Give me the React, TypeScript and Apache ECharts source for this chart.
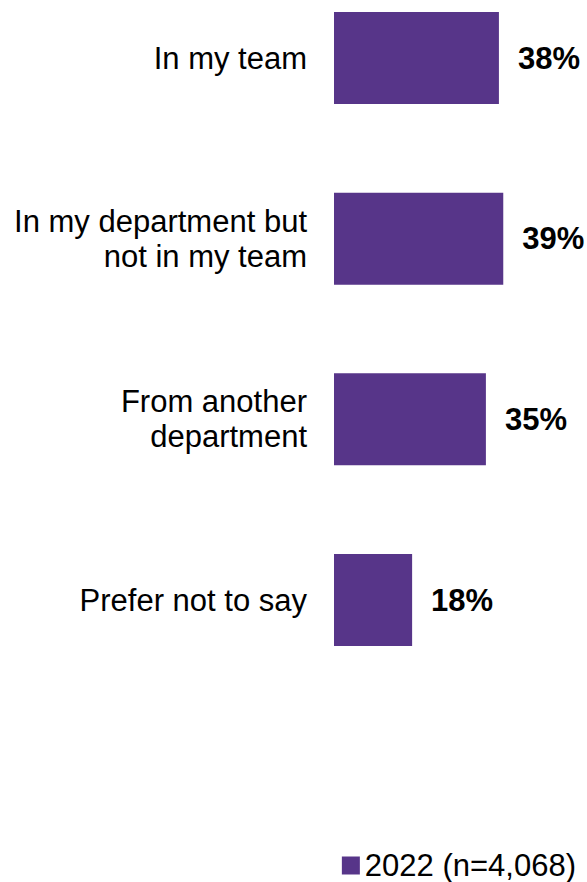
import React, { useEffect, useRef } from "react";
import * as echarts from "echarts";

const categories = [
  "In my team",
  "In my department but\nnot in my team",
  "From another\ndepartment",
  "Prefer not to say",
];
const values2022 = [38, 39, 35, 18];
const seriesName = "2022 (n=4,068)";

export default function App() {
  const ref = useRef<HTMLDivElement>(null);
  useEffect(() => {
    if (!ref.current) return;
    const chart = echarts.init(ref.current, null, { renderer: "svg" });
    const font = "'Liberation Sans', Arial, sans-serif";
    chart.setOption({
      animation: false,
      textStyle: { fontFamily: font },
      grid: { left: 334, top: 58, width: 217, height: 542, containLabel: false },
      xAxis: {
        type: "value",
        min: 0,
        max: 50,
        show: false,
      },
      yAxis: {
        type: "category",
        data: categories,
        inverse: true,
        boundaryGap: false,
        axisLine: { show: false },
        axisTick: { show: false },
        splitLine: { show: false },
        axisLabel: {
          margin: 27,
          fontSize: 31,
          lineHeight: 35,
          color: "#000",
          fontFamily: font,
          align: "right",
        },
      },
      legend: {
        data: [seriesName],
        right: 6,
        top: 845,
        itemWidth: 18,
        itemHeight: 18,
        icon: "rect",
        textStyle: { fontSize: 31, color: "#000", fontFamily: font },
      },
      series: [
        {
          name: seriesName,
          type: "bar",
          data: values2022,
          barWidth: 92,
          itemStyle: { color: "#573589" },
          label: {
            show: true,
            position: "right",
            distance: 19,
            formatter: "{c}%",
            fontSize: 31,
            fontWeight: "bold",
            color: "#000",
            fontFamily: font,
          },
        },
      ],
    });
    return () => chart.dispose();
  }, []);
  return (
    <div
      ref={ref}
      style={{ position: "absolute", left: 0, top: 0, width: 587, height: 882, background: "#fff" }}
    />
  );
}
